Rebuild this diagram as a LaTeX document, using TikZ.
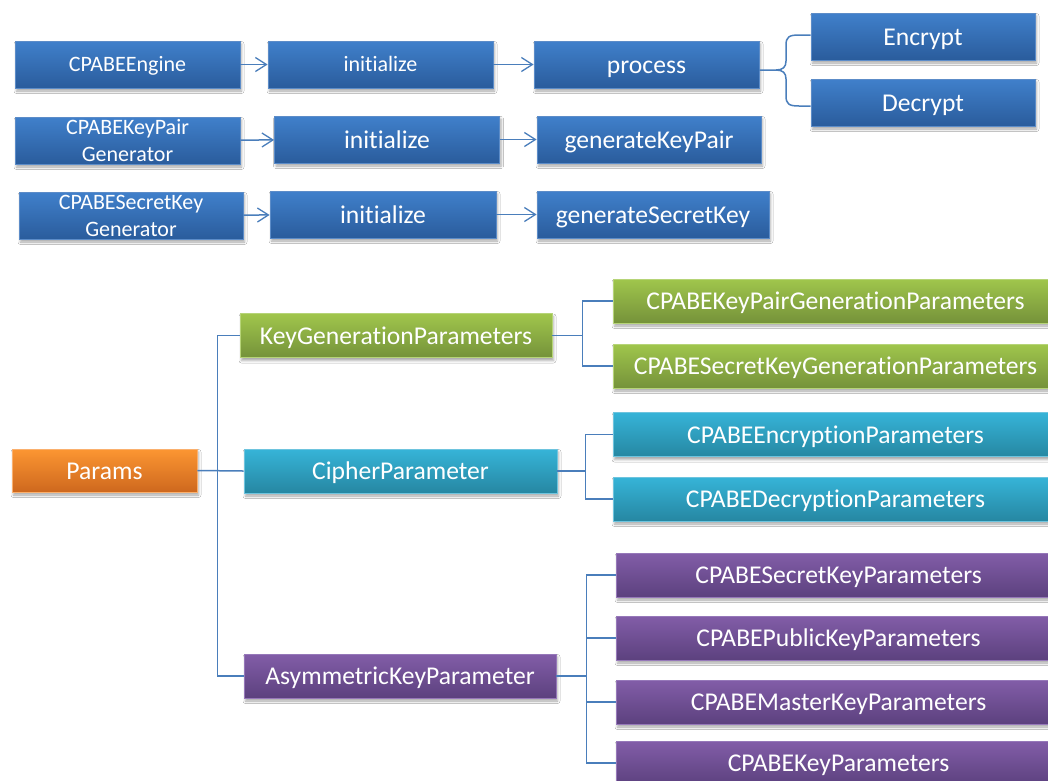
\documentclass[tikz,border=0pt]{standalone}
\usepackage{fontspec}
\setmainfont{Carlito}[Ligatures={NoCommon,NoRequired,NoContextual}, Contextuals=NoAlternate]
\usetikzlibrary{arrows.meta,shadows.blur}

% fills: light at the top, darker at the bottom
\definecolor{bluetop}{RGB}{64,128,203}
\definecolor{bluebot}{RGB}{42,92,156}
\definecolor{blueedge}{RGB}{92,140,200}
\definecolor{greentop}{RGB}{160,198,76}
\definecolor{greenbot}{RGB}{117,146,58}
\definecolor{greenedge}{RGB}{182,212,120}
\definecolor{tealtop}{RGB}{54,180,216}
\definecolor{tealbot}{RGB}{38,135,162}
\definecolor{tealedge}{RGB}{110,196,222}
\definecolor{purptop}{RGB}{130,93,168}
\definecolor{purpbot}{RGB}{92,65,126}
\definecolor{purpedge}{RGB}{150,120,185}
\definecolor{orgtop}{RGB}{252,150,50}
\definecolor{orgbot}{RGB}{206,104,30}
\definecolor{orgedge}{RGB}{250,176,110}
\definecolor{lnk}{RGB}{74,126,187}

\tikzset{
  box/.style={rectangle, inner sep=0pt, text=white, align=center, line width=0.8pt,
    blur shadow={shadow xshift=1.5pt, shadow yshift=-3pt, shadow blur radius=2.5pt, shadow opacity=35}},
  bluebox/.style={box, top color=bluetop, bottom color=bluebot, draw=blueedge,
    minimum width=225pt, minimum height=47pt},
  greenbox/.style={box, top color=greentop, bottom color=greenbot, draw=greenedge, minimum height=44pt},
  tealbox/.style={box, top color=tealtop, bottom color=tealbot, draw=tealedge, minimum height=44pt},
  purpbox/.style={box, top color=purptop, bottom color=purpbot, draw=purpedge, minimum height=44pt},
  orgbox/.style={box, top color=orgtop, bottom color=orgbot, draw=orgedge, minimum height=43pt},
  % single-line labels sit on a fixed line box so descenders do not shift them
  big/.style={font=\fontsize{25.6}{31}\selectfont, text height=21.5pt, text depth=4.1pt},
  small/.style={font=\fontsize{22}{27}\selectfont, text height=18.2pt, text depth=3.8pt},
  twoline/.style={font=\fontsize{22}{27}\selectfont, yshift=-1pt},
  conn/.style={draw=lnk, line width=1.5pt},
  arr/.style={conn, -{Straight Barb[length=11pt, width=14pt, line width=1.3pt]}},
}

\begin{document}
\begin{tikzpicture}[x=1pt, y=-1pt]
\clip (0,0) rectangle (1048,780);
\fill[white] (0,0) rectangle (1048,780);

% ---------- engine / generator call chains ----------
\node[bluebox, small] (engine) at (127.5,64.5) {CPABEEngine};
\node[bluebox, small] (init1)  at (380.5,64.5) {initialize};
\node[bluebox, big]   (process) at (646.5,64.5) {process};
\node[bluebox, big, minimum width=224pt] (encrypt) at (923,36.5) {Encrypt};
\node[bluebox, big, minimum width=224pt] (decrypt) at (923,102.5) {Decrypt};

\node[bluebox, twoline] (kpgen) at (127.5,139.5) {CPABEKeyPair\\Generator};
\node[bluebox, big]   (init2) at (387,139.5) {initialize};
\node[bluebox, big, minimum width=224pt] (genkp) at (649,139.5) {generateKeyPair};

\node[bluebox, twoline, minimum width=224pt] (skgen) at (131,214.5) {CPABESecretKey\\Generator};
\node[bluebox, big, minimum width=226pt] (init3) at (383,214.5) {initialize};
\node[bluebox, big, minimum width=232pt] (gensk) at (653,214.5) {generateSecretKey};

\draw[arr] (engine) -- (init1);
\draw[arr] (init1) -- (process);
\draw[arr] (kpgen) -- (init2);
\draw[arr] (init2) -- (genkp);
\draw[arr] (skgen) -- (init3);
\draw[arr] (init3) -- (gensk);

% brace from process to its two operations
\draw[conn] ([yshift=1.5pt]encrypt.west) -- (799,35)
  .. controls (789,35) and (786,37) .. (786,45) -- (786,61)
  .. controls (786,67) and (783,70) .. (776,70) -- ([yshift=-5.5pt]process.east);
\draw[conn] ([yshift=-3.5pt]decrypt.west) -- (799,106)
  .. controls (789,106) and (786,104) .. (786,96) -- (786,79)
  .. controls (786,73) and (783,70) .. (776,70);

% ---------- parameter hierarchy ----------
\node[orgbox, big, minimum width=185pt] (params) at (104.5,470.5) {Params};

\node[greenbox, big, minimum width=312pt] (keygen) at (396,335.5) {KeyGenerationParameters};
\node[tealbox, big, minimum width=313pt] (cipher) at (400.5,471) {CipherParameter};
\node[purpbox, big, minimum width=312pt] (asym) at (400,676) {AsymmetricKeyParameter};

\node[greenbox, big, minimum width=445pt] (g1) at (835.5,301) {CPABEKeyPairGenerationParameters};
\node[greenbox, big, minimum width=445pt] (g2) at (835.5,366) {CPABESecretKeyGenerationParameters};
\node[tealbox, big, minimum width=445pt] (t1) at (835.5,434.5) {CPABEEncryptionParameters};
\node[tealbox, big, minimum width=445pt] (t2) at (835.5,499) {CPABEDecryptionParameters};
\node[purpbox, big, minimum width=445pt] (p1) at (838.5,575) {CPABESecretKeyParameters};
\node[purpbox, big, minimum width=445pt] (p2) at (838.5,638) {CPABEPublicKeyParameters};
\node[purpbox, big, minimum width=445pt] (p3) at (838.5,702) {CPABEMasterKeyParameters};
\node[purpbox, big, minimum width=445pt] (p4) at (838.5,763) {CPABEKeyParameters};

% root to its three branches
\draw[conn] (keygen.west) -- ++(-22,0) coordinate (trunk) |- (asym.west);
\draw[conn] (params.east) -- (cipher.west);

% branches to their leaves
\draw[conn] (keygen.east) -- ++(30,0) coordinate (kj);
\draw[conn] (g1.west) -| (kj) |- (g2.west);

\draw[conn] (cipher.east) -- ++(28,0) coordinate (cj);
\draw[conn] (t1.west) -| (cj) |- (t2.west);

\draw[conn] (asym.east) -- ++(30,0) coordinate (aj);
\draw[conn] (p1.west) -| (aj) |- (p4.west);
\draw[conn] (aj |- p2.west) -- (p2.west);
\draw[conn] (aj |- p3.west) -- (p3.west);
\end{tikzpicture}
\end{document}
